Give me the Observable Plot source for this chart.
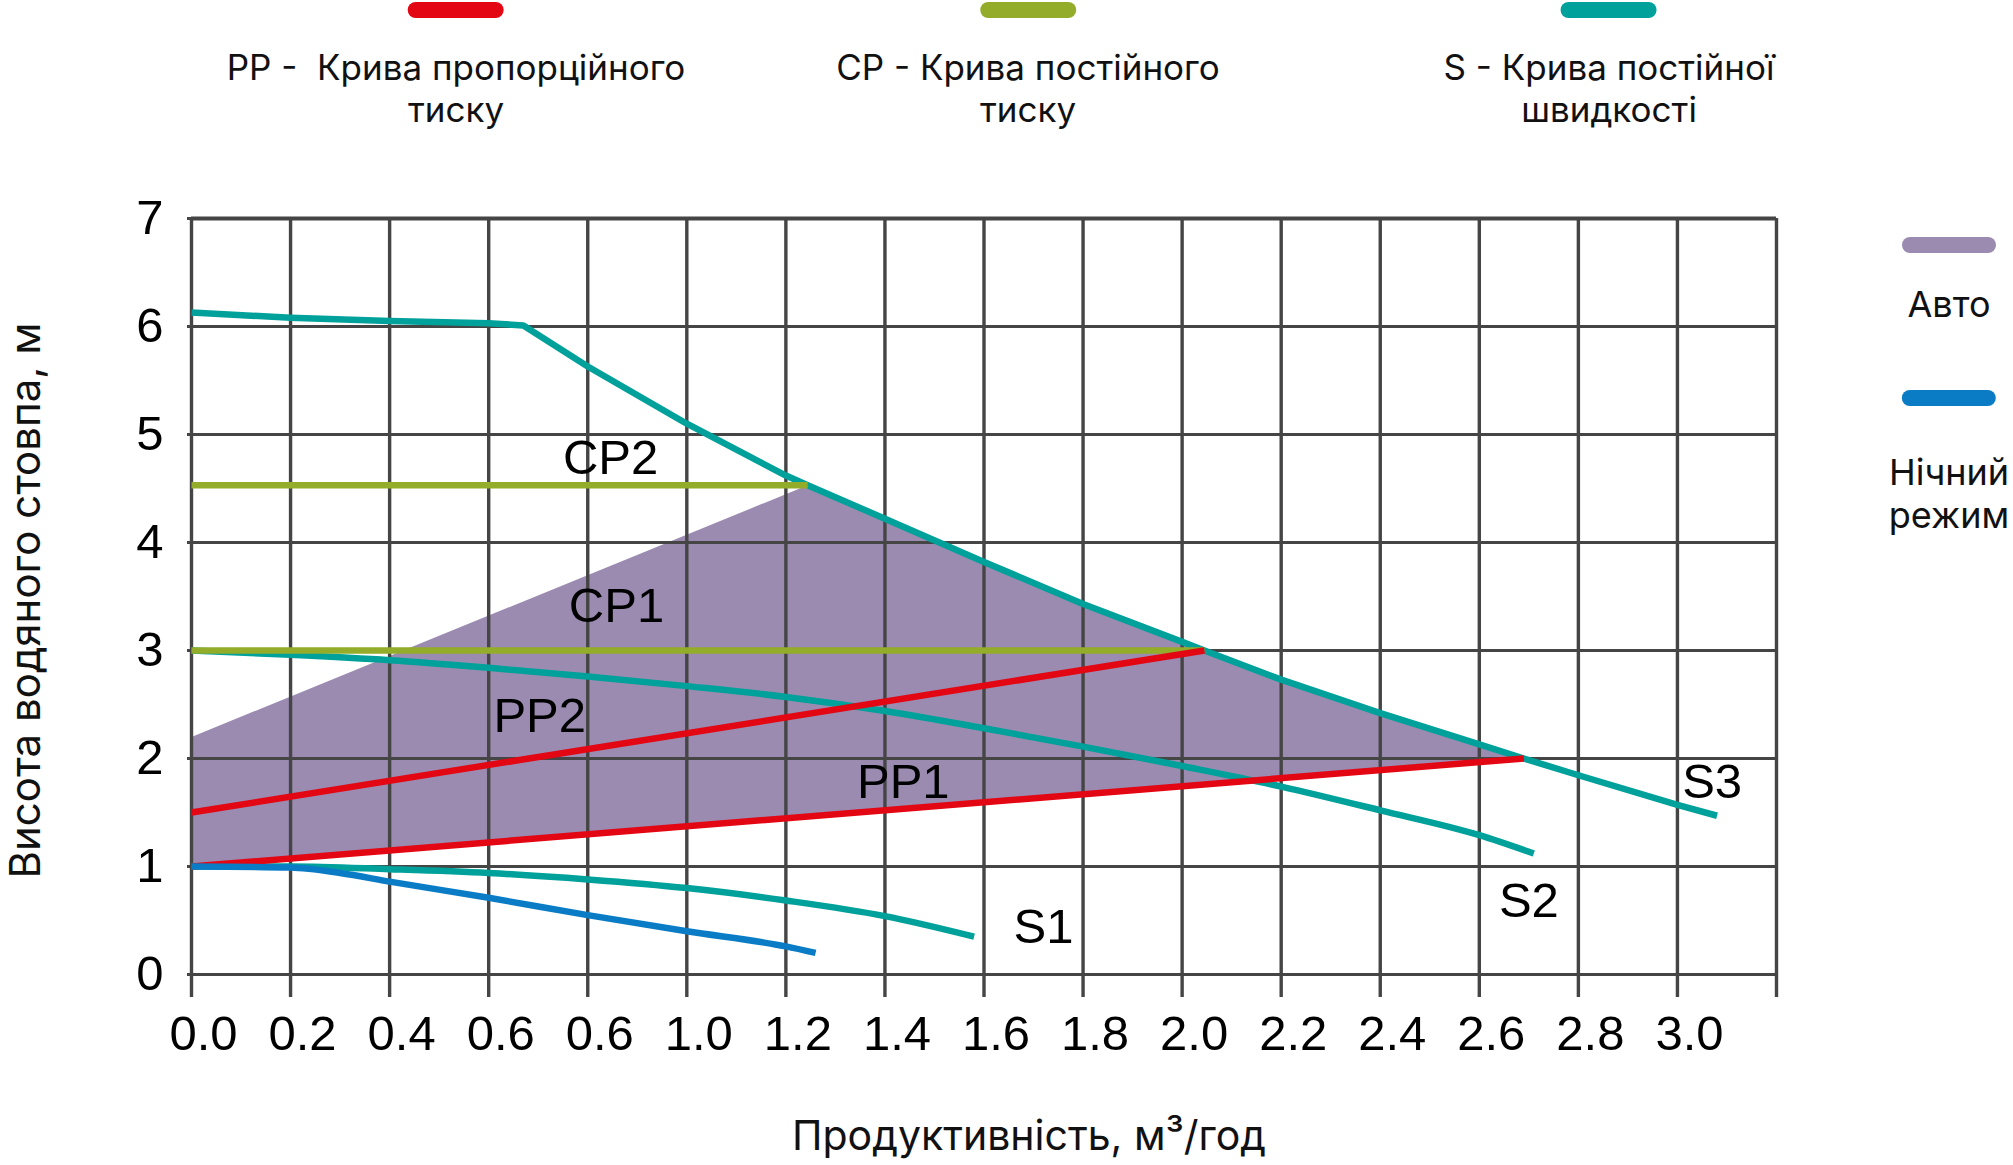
<!DOCTYPE html>
<html>
<head>
<meta charset="utf-8">
<script src="https://cdn.jsdelivr.net/npm/d3@7"></script>
<script src="https://cdn.jsdelivr.net/npm/@observablehq/plot@0.6"></script>
<style>
  html, body { margin: 0; padding: 0; background: #fff; }
  #wrap { position: relative; width: 2013px; height: 1165px; overflow: hidden; }
  #top-legend { position: relative; height: 160px; }
  .item { position: absolute; top: 0; transform: translateX(-50%); text-align: center; }
  .pill { margin: 2px auto 0; width: 96px; height: 16px; border-radius: 8px; }
  .txt { font-family: Inter, "Noto Sans", sans-serif; font-size: 35px; line-height: 42px; color: #111; white-space: pre; }
  #side-legend { position: absolute; left: 1949px; top: 0; }
  #side-legend .entry { position: absolute; transform: translateX(-50%); text-align: center; }
  #side-legend .pill { margin: 0 auto; width: 94px; }
  #side-legend .txt { font-size: 36px; line-height: 43px; }
</style>
</head>
<body>
<div id="wrap">
  <div id="top-legend"></div>
  <div id="chart"></div>
  <div id="side-legend"></div>
</div>
<script>
// Pump curves: [flow m³/h, head m]
const speed3 = [[0,6.13],[0.2,6.08],[0.4,6.05],[0.6,6.03],[0.67,6.01],[0.8,5.63],[1.0,5.1],[1.2,4.62],[1.244,4.53],[1.4,4.22],[1.6,3.82],[1.8,3.43],[2.0,3.08],[2.045,3.0],[2.2,2.73],[2.4,2.42],[2.6,2.13],[2.69,2.0],[2.8,1.845],[3.0,1.57],[3.08,1.47]];
const speed2 = [[0,3.0],[0.2,2.96],[0.4,2.91],[0.6,2.84],[0.8,2.76],[1.0,2.67],[1.2,2.57],[1.4,2.44],[1.6,2.28],[1.8,2.11],[2.0,1.93],[2.2,1.74],[2.4,1.52],[2.6,1.29],[2.71,1.12]];
const speed1 = [[0,1.0],[0.2,1.0],[0.4,0.975],[0.6,0.94],[0.8,0.88],[1.0,0.80],[1.2,0.685],[1.4,0.54],[1.58,0.35]];
const night = [[0,1.0],[0.2,0.99],[0.3,0.94],[0.4,0.86],[0.6,0.71],[0.8,0.55],[1.0,0.40],[1.2,0.26],[1.26,0.2]];
const pp2 = [[0,1.5],[2.045,3.0]];
const pp1 = [[0,1.0],[2.69,2.0]];
const cp2 = [[0,4.53],[1.244,4.53]];
const cp1 = [[0,3.0],[2.045,3.0]];

// Auto-mode region: rising edge from 2.2 m up to CP2, down along S3 to PP1, back along PP1
const autoStart = [0, 2.2];
const autoRegion = [autoStart, ...speed3.filter(([q]) => q >= 1.244 && q <= 2.69), pp1[0]];

// Curve names and where they are written [name, flow, head]
const curveLabels = [["CP2",0.846,4.78],["CP1",0.858,3.41],["PP2",0.703,2.39],["PP1",1.437,1.78],["S1",1.72,0.44],["S2",2.70,0.68],["S3",3.07,1.78]];

// Axes
const xTicks = [0,0.2,0.4,0.6,0.8,1.0,1.2,1.4,1.6,1.8,2.0,2.2,2.4,2.6,2.8,3.0,3.2];
const xTickLabels = ["0.0","0.2","0.4","0.6","0.6","1.0","1.2","1.4","1.6","1.8","2.0","2.2","2.4","2.6","2.8","3.0"];
const yTicks = [0,1,2,3,4,5,6,7];
const xTitle = "Продуктивність, м³/год";
const yTitle = "Висота водяного стовпа, м";

// Legends
const legendLabels = [["PP -  Крива пропорційного","тиску"],["CP - Крива постійного","тиску"],["S - Крива постійної","швидкості"]];
const legendKeys = ["pp","cp","s"];
const sideLabels = [["Авто"],["Нічний","режим"]];
const sideKeys = ["auto","night"];

const colors = {pp: "#e30613", cp: "#93ac2a", s: "#00a19a", night: "#0a7cc6", auto: "#9b8bb0", grid: "#454545"};

// top legend
const legendCenters = [456, 1028, 1609];
const topLegend = document.getElementById("top-legend");
legendLabels.forEach((lines, i) => {
  const el = document.createElement("div");
  el.className = "item";
  el.style.left = legendCenters[i] + "px";
  el.innerHTML = `<div class="pill" style="background:${colors[legendKeys[i]]}"></div>` +
    `<div class="txt" style="margin-top:28px">${lines.join("\n")}</div>`;
  topLegend.appendChild(el);
});

// side legend
const sideLegend = document.getElementById("side-legend");
const sideTops = [237, 390];
sideLabels.forEach((lines, i) => {
  const el = document.createElement("div");
  el.className = "entry";
  el.style.top = sideTops[i] + "px";
  el.innerHTML = `<div class="pill" style="background:${colors[sideKeys[i]]}"></div>` +
    `<div class="txt" style="margin-top:${i === 0 ? 30 : 45}px">${lines.join("\n")}</div>`;
  sideLegend.appendChild(el);
});

const X = d => d[0], Y = d => d[1];
const lineStyle = {x: X, y: Y, strokeWidth: 6.5, strokeLinecap: "butt", strokeLinejoin: "round"};

const chart = Plot.plot({
  width: 2013,
  height: 1005,
  marginTop: 58,
  marginBottom: 191,
  marginLeft: 191,
  marginRight: 237,
  x: {domain: [0, 3.2]},
  y: {domain: [0, 7]},
  style: {fontFamily: "'Liberation Sans', Arial, sans-serif", fontSize: "49px", color: "#000", background: "white", overflow: "visible"},
  marks: [
    Plot.line(autoRegion, {x: X, y: Y, fill: colors.auto, stroke: "none"}),
    Plot.ruleX(xTicks, {stroke: colors.grid, strokeWidth: 3.4}),
    Plot.ruleY(yTicks, {stroke: colors.grid, strokeWidth: 3}),
    Plot.ruleY([7], {stroke: colors.grid, strokeWidth: 4}),
    // tick extensions below the frame
    Plot.axisX({ticks: xTicks, tickSize: 23, stroke: colors.grid, strokeWidth: 3.4, tickFormat: () => "", label: null}),
    // tick labels, set slightly right of their ticks
    Plot.axisX({ticks: xTicks, tickSize: 0, tickPadding: 41, dx: 12,
      tickFormat: d => xTickLabels[xTicks.indexOf(d)] ?? "", label: null, fontSize: 49}),
    Plot.axisY({ticks: yTicks, tickSize: 4, tickPadding: 24, stroke: colors.grid, strokeWidth: 3,
      tickFormat: d => String(d), label: null, fontSize: 49}),
    Plot.line(speed3, {...lineStyle, stroke: colors.s}),
    Plot.line(speed2, {...lineStyle, stroke: colors.s, curve: "monotone-x"}),
    Plot.line(speed1, {...lineStyle, stroke: colors.s, curve: "monotone-x"}),
    Plot.line(cp2, {...lineStyle, stroke: colors.cp}),
    Plot.line(cp1, {...lineStyle, stroke: colors.cp}),
    Plot.line(pp2, {...lineStyle, stroke: colors.pp}),
    Plot.line(pp1, {...lineStyle, stroke: colors.pp}),
    Plot.line(night, {...lineStyle, stroke: colors.night, curve: "monotone-x"}),
    Plot.text(curveLabels, {x: d => d[1], y: d => d[2], text: d => d[0], fontSize: 49, fill: "#000"}),
    Plot.text([xTitle], {text: d => d, frameAnchor: "bottom", lineAnchor: "middle", textAnchor: "middle", dx: 45, dy: 162,
      fontFamily: "Inter, 'Noto Sans', sans-serif", fontSize: 41, fill: "#111"}),
    Plot.text([yTitle], {text: d => d, frameAnchor: "left", lineAnchor: "middle", textAnchor: "middle", rotate: -90, dx: -165, dy: 4,
      fontFamily: "Inter, 'Noto Sans', sans-serif", fontSize: 42, fill: "#111"})
  ]
});
document.getElementById("chart").appendChild(chart);
</script>
</body>
</html>
